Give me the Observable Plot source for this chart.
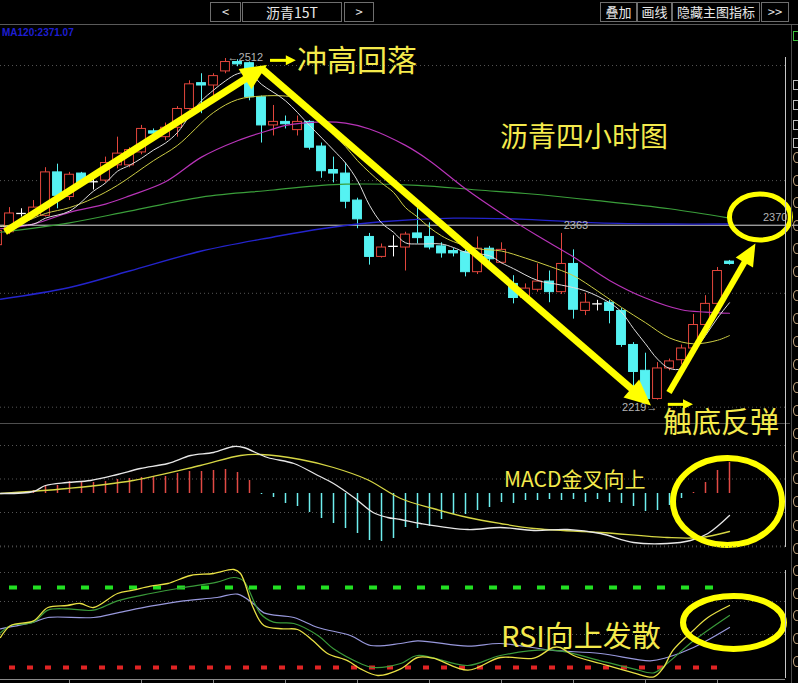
<!DOCTYPE html>
<html><head><meta charset="utf-8"><title>沥青四小时图</title>
<script src="https://cdn.jsdelivr.net/npm/d3@7"></script>
<script src="https://cdn.jsdelivr.net/npm/@observablehq/plot@0.6"></script>
<style>
html,body{margin:0;padding:0;background:#000;}
#wrap{position:relative;width:798px;height:683px;overflow:hidden;background:#000;}
.btn{position:absolute;top:2px;height:18px;border:1px solid #6e6e6e;color:#e8e8e8;font-family:"Noto Sans CJK SC",sans-serif;font-size:13px;line-height:18px;text-align:center;}
.hl{position:absolute;height:1px;}
.vl{position:absolute;width:1px;}
.plot{position:absolute;left:0;}
.ann{position:absolute;color:#f4ea4c;font-family:"Noto Sans CJK SC",sans-serif;white-space:nowrap;line-height:1;}
.ring{position:absolute;left:793px;width:8px;height:11px;border:1.5px solid #c8aa84;border-radius:50%;box-sizing:border-box;}
.box{position:absolute;left:793px;width:8px;height:10px;border:1px solid #bdbdbd;box-sizing:border-box;}
</style></head>
<body>
<div id="wrap">
  <div class="btn" style="left:210px;width:29px">&lt;</div>
  <div class="btn" style="left:242px;width:98px;font-size:14px">沥青15T</div>
  <div class="btn" style="left:344px;width:28px">&gt;</div>
  <div class="btn" style="left:600px;width:35px">叠加</div>
  <div class="btn" style="left:637px;width:33px">画线</div>
  <div class="btn" style="left:672px;width:86px">隐藏主图指标</div>
  <div class="btn" style="left:761px;width:26px">&gt;&gt;</div>
  <div class="hl" style="left:0;top:24px;width:798px;background:#5a5a5a"></div>
  <div style="position:absolute;left:2px;top:27px;font:bold 10px 'Liberation Sans',sans-serif;color:#1e1ed2">MA120:2371.07</div>
  <div id="main" class="plot" style="top:25px"></div>
  <div id="macd" class="plot" style="top:423px"></div>
  <div id="rsi" class="plot" style="top:548px"></div>
  <div class="hl" style="left:0;top:423px;width:790px;background:#4e4e4e"></div>
  <div class="vl" style="left:785px;top:57px;height:490px;background:#c8c8c8"></div>
  <div class="vl" style="left:785px;top:570px;height:108px;background:#c8c8c8"></div>
  <div class="vl" style="left:791px;top:25px;height:658px;background:#4a4a4a"></div>
  <div id="side"></div>
  <div class="ann" style="left:297px;top:43px;font-size:30px">冲高回落</div>
  <div class="ann" style="left:500px;top:121px;font-size:28px">沥青四小时图</div>
  <div class="ann" style="left:663px;top:406px;font-size:29px">触底反弹</div>
  <div class="ann" style="left:504px;top:468px;font-size:21px">MACD金叉向上</div>
  <div class="ann" style="left:501px;top:620px;font-size:29px">RSI向上发散</div>
</div>
<script>
// ---------- DATA ----------
// candle index 0..61 (4-hour bars)
const opens  = [2353,2364,2380,2378,2378,2415,2394,2414,2407,2408,2421,2421,2432,2450,2445,2453,2469,2491,2489,2501,2509,2508,2479,2455,2458,2451,2458,2437,2417,2414,2391,2360,2343,2352,2351,2363,2360,2352,2348,2347,2330,2350,2338,2320,2308,2315,2322,2313,2337,2297,2303,2304,2297,2268,2246,2222,2248,2255,2265,2285,2303,2339];
const highs  = [2367,2385,2384,2391,2419,2422,2415,2415,2409,2428,2445,2436,2455,2452,2457,2471,2493,2499,2499,2512,2511,2509,2480,2472,2463,2463,2459,2440,2428,2423,2393,2363,2354,2361,2364,2387,2372,2355,2350,2349,2360,2352,2355,2327,2320,2337,2331,2363,2349,2312,2306,2306,2299,2270,2261,2253,2256,2268,2294,2310,2334,2340];
const lows   = [2348,2362,2377,2376,2377,2384,2391,2405,2400,2406,2418,2419,2430,2445,2442,2445,2468,2465,2480,2499,2505,2476,2440,2446,2452,2446,2434,2410,2406,2384,2367,2336,2342,2343,2331,2354,2349,2342,2343,2326,2328,2337,2337,2303,2307,2313,2304,2311,2290,2293,2297,2286,2266,2231,2219,2221,2246,2251,2263,2283,2302,2336];
const closes = [2365,2380,2380,2385,2415,2395,2413,2406,2407,2423,2431,2434,2452,2448,2453,2469,2490,2489,2497,2509,2507,2479,2455,2458,2456,2458,2436,2416,2414,2390,2375,2343,2351,2352,2362,2359,2351,2346,2346,2330,2350,2341,2349,2308,2316,2322,2313,2337,2298,2304,2303,2297,2268,2245,2222,2248,2254,2265,2285,2303,2331,2337];

// moving averages: [candle index, price]
const ma5   = [[0.25,2369],[3,2371],[4,2376],[6,2382],[8,2399],[9,2406],[10,2416],[11,2421],[12,2427],[13,2434],[14,2440],[15,2449],[16,2463],[17,2476],[18,2485],[19,2493],[20,2499],[21,2500],[22,2490],[24,2476],[26,2455],[28,2434],[29,2423],[30,2408],[31,2387],[32,2372],[33,2364],[34,2355],[35,2354],[37,2354],[38,2351],[39,2347],[41,2344],[42,2338],[43,2333],[45,2323],[47,2319],[49,2314],[51,2304],[52,2296],[53,2282],[54,2269],[55,2256],[56,2248],[57,2248],[58,2262],[59,2276],[60,2291],[61,2304]];
const ma10  = [[0.25,2369],[2,2372],[4,2380],[6,2385],[8,2393],[10,2404],[13,2425],[15,2438],[18,2466],[20,2477],[22,2480],[24,2480],[25,2478],[26,2469],[27,2459],[28,2447],[29,2437],[30,2425],[31,2415],[32,2406],[33,2398],[34,2385],[35,2377],[36,2368],[37,2361],[38,2356],[40,2350],[42,2348],[44,2342],[46,2335],[48,2327],[50,2314],[52,2300],[54,2287],[56,2274],[58,2269],[60,2272],[61,2276]];
const ma20  = [[0.25,2367],[3,2371],[6,2381],[9,2388],[11,2395],[14,2407],[17,2428],[20,2442],[23,2452],[24,2455],[27,2458],[29,2457],[31,2452],[34,2438],[36,2425],[39,2401],[42,2380],[45,2361],[48,2343],[51,2323],[54,2308],[57,2298],[59,2296],[61,2295]];
const ma60  = [[0.25,2364],[6,2372],[11,2382],[17,2394],[23,2400],[27,2404],[29,2405],[35,2404],[40,2400],[44,2397],[50,2391],[56,2384],[61,2376]];
const ma120 = [[0.25,2307],[6,2317],[11,2331],[17,2348],[23,2360],[27,2367],[32,2373],[38,2376],[44,2375],[50,2372],[56,2371],[61,2371]];
const priceGrid = [2506, 2408, 2312, 2215];
const lastLine = [2370];

// MACD
const macdHist = [0,0,0,1.5,4,4,6,6,5.5,6,7,7.5,8,8.5,8.5,10,11,11,11.5,12,10.5,6.5,-0.5,-2,-5,-6.5,-9.5,-12.5,-15,-17.5,-20,-23.5,-24,-22.5,-17,-17.5,-16.5,-13,-10.5,-10.5,-8.5,-7,-4.5,-5,-3.5,-3.5,-3,-3.5,-3,-4.5,-3,-4.5,-5,-6.5,-9,-8.5,-6,-2.5,0.5,5.5,11.5,15.5];
const dif = [[0.25,0],[3,1],[4,4],[5.8,5.5],[7.75,6.5],[10,9.5],[11.9,12.5],[14.2,15],[16.1,19],[18,20.5],[19.7,23.5],[20.5,23],[22.5,18],[24.7,15],[26.7,9],[28,5],[29.7,-2],[31.3,-9.5],[32.5,-12],[33.6,-13],[35.25,-15],[39.2,-18],[41.9,-17],[44.7,-18.5],[47.5,-18],[50.25,-20],[53,-24.5],[55.8,-25],[57.75,-23.5],[59.2,-20],[61,-11]];
const dea = [[0.25,0],[5.8,2.5],[11.3,6.5],[16.9,14],[20.25,19],[21.9,19.5],[25.25,17],[28,13],[30.8,7],[33.6,-2.5],[36.3,-7.5],[39.2,-12],[41.9,-15],[44.7,-17.5],[50.25,-19.5],[55.8,-22],[58.6,-22],[61,-19]];
const macdGrid = [24, 7.25, -9.5, -26.25];

// RSI
const rsi6 = [[0.25,42.5],[1.1,51.5],[3,55],[4.2,65],[5.8,66.5],[6.9,68],[8,65],[10,75.5],[11.3,78],[12.75,81],[14.2,83],[16.1,89],[18,90.5],[19.7,93.5],[20.25,90.5],[21.3,65],[22.2,51.5],[23.8,49],[25,48.5],[26.3,40],[27.5,30.5],[29.2,25],[30.25,19],[31.7,14],[33.6,19],[35,27.5],[36.3,27],[39.2,18],[41.9,27.5],[44.7,27],[46.3,35],[46.9,35],[48,29],[50.25,23],[53,16],[54.7,13],[55.5,20],[56.3,33],[58,48],[59.2,57.5],[61,66.5]];
const rsi12 = [[0.25,46],[1.1,51.5],[3,54],[4.2,63],[5.8,64],[8,63],[10,70],[12.75,75.5],[15.5,80],[18.3,84],[19.7,87.5],[20.5,85],[21.9,60.5],[23,54],[24.7,53],[26.7,44],[28,34],[30.25,23],[31.3,20],[33.6,23],[35,29],[39.2,21.5],[41.9,29],[46.3,33],[50.25,25],[53,19],[54.7,16],[55.8,23],[58,40],[61,59]];
const rsi24 = [[0.25,49],[3,54],[4.2,57.5],[8,57.5],[10,61],[12.75,66],[15.5,70],[18.3,72.5],[20,75],[21.3,68],[22.2,61],[24.7,57.5],[26.7,50],[29.4,44],[31.1,36.5],[33.6,38],[35,40],[39.2,36],[41.9,38],[46.1,33],[50.25,30.5],[54.4,25],[55.8,27.5],[58,35],[61,50]];
const rsiGrid = [91.25, 69.5, 44.75];
const rsiHigh = [80], rsiLow = [20];
const axisTicks = [6,12,18,24,30,36,42,48,54,60];

// annotations (candle index, value)
const bigArrows   = [[0.67,2364,22.5,2506],[22.17,2502,54.5,2216]];
const upArrow     = [[56,2227,63.2,2354]];
const smallArrows = [[22.75,2510,24.9,2510],[55.9,2217,58,2217]];
const circleMain = [63.58, 2376.6], circleMacd = [60.875, -4.25], circleRsi = [61.375, 53.4];
const sideRows = [152,175,197,220,243,266,290,313,336,359,382,405,428,451,473,496,520,543,565,588,610,633,656];
const sideBoxes = [80,100,120,138];

// ---------- DRAW ----------
const X = {domain:[0.25, 66.75], range:[0, 798], axis:null};
const UP = "#e2463c", DN = "#55f2f2", EQ = "#ffffff", YEL = "#ffff00";
const candles = opens.map((o, i) => ({i, o, h: highs[i], l: lows[i], c: closes[i]}));
const ccol = d => d.c > d.o ? UP : d.c < d.o ? DN : EQ;
const pts = a => a.map(([i, v]) => ({i, v}));

function scalesOf(scales, ycfg) {
  const sx = typeof scales?.x === "function" ? scales.x : d3.scaleLinear(X.domain, X.range);
  const sy = typeof scales?.y === "function" ? scales.y : d3.scaleLinear(ycfg.domain, ycfg.range);
  return [sx, sy];
}
function ellipseMark(center, rx, ry, sw, ycfg) {
  return (index, scales) => {
    const [sx, sy] = scalesOf(scales, ycfg);
    const g = d3.create("svg:g");
    g.append("ellipse").attr("cx", sx(center[0])).attr("cy", sy(center[1]))
      .attr("rx", rx).attr("ry", ry).attr("fill", "none").attr("stroke", YEL).attr("stroke-width", sw);
    return g.node();
  };
}
function arrowMark(list, w, hl, hw, ycfg) {
  return (index, scales) => {
    const [sx, sy] = scalesOf(scales, ycfg);
    const g = d3.create("svg:g");
    for (const [a, b, c, d] of list) {
      const x1 = sx(a), y1 = sy(b), x2 = sx(c), y2 = sy(d);
      const L = Math.hypot(x2 - x1, y2 - y1), ux = (x2 - x1) / L, uy = (y2 - y1) / L;
      const bx = x2 - ux * hl, by = y2 - uy * hl;
      g.append("line").attr("x1", x1).attr("y1", y1).attr("x2", bx + ux * 2).attr("y2", by + uy * 2)
        .attr("stroke", YEL).attr("stroke-width", w);
      g.append("polygon").attr("fill", YEL)
        .attr("points", `${x2},${y2} ${bx - uy * hw},${by + ux * hw} ${bx + uy * hw},${by - ux * hw}`);
    }
    return g.node();
  };
}
const baseStyle = {background: "transparent", overflow: "visible"};
const lab = {fontFamily: "Liberation Sans", fontSize: 11, fill: "#b4b4b4"};

// main price panel
const YM = {domain:[2219, 2512], range:[377, 33], axis:null};
const mainPlot = Plot.plot({
  width: 798, height: 398, margin: 0, style: baseStyle,
  x: X, y: YM,
  marks: [
    Plot.ruleY(priceGrid, {x1: 0.25, x2: 65.67, stroke: "#555", strokeDasharray: "1,3"}),
    Plot.ruleY(lastLine, {stroke: "#d8d8d8", strokeWidth: 1}),
    Plot.ruleX(candles, {x: "i", y1: "l", y2: "h", stroke: ccol, strokeWidth: 1}),
    Plot.rect(candles.filter(d => d.c !== d.o), {x1: d => d.i - 0.37, x2: d => d.i + 0.37, y1: "o", y2: "c",
      fill: d => d.c > d.o ? "#000" : DN, stroke: ccol, strokeWidth: 1}),
    Plot.ruleY(candles.filter(d => d.c === d.o), {y: "o", x1: d => d.i - 0.4, x2: d => d.i + 0.4, stroke: EQ, strokeWidth: 1.3}),
    Plot.line(pts(ma120), {x: "i", y: "v", stroke: "#2424cc", strokeWidth: 1.4, curve: "catmull-rom"}),
    Plot.line(pts(ma60), {x: "i", y: "v", stroke: "#3a9e3a", strokeWidth: 1.2, curve: "catmull-rom"}),
    Plot.line(pts(ma20), {x: "i", y: "v", stroke: "#b834b8", strokeWidth: 1.2, curve: "catmull-rom"}),
    Plot.line(pts(ma10), {x: "i", y: "v", stroke: "#cccc44", strokeWidth: 1, curve: "catmull-rom"}),
    Plot.line(pts(ma5), {x: "i", y: "v", stroke: "#dedede", strokeWidth: 1, curve: "catmull-rom"}),
    Plot.text([{i: 19.17, v: 2512.5}], {x: "i", y: "v", text: () => "←2512", textAnchor: "start", ...lab}),
    Plot.text([{i: 48.2, v: 2363}], {x: "i", y: "v", text: () => "2363", dy: -8, ...lab}),
    Plot.text([{i: 55, v: 2219}], {x: "i", y: "v", text: () => "2219→", textAnchor: "end", dy: 5, ...lab}),
    Plot.text([{i: 65.83, v: 2370}], {x: "i", y: "v", text: () => "2370", textAnchor: "end", dy: -8, ...lab}),
    arrowMark(bigArrows, 7, 26, 12, YM),
    arrowMark(upArrow, 6, 22, 10, YM),
    arrowMark(smallArrows, 3, 10, 5, YM),
    ellipseMark(circleMain, 30.5, 23, 5, YM)
  ]
});
document.getElementById("main").append(mainPlot);

// MACD panel
const YD = {domain:[-27, 35], range:[124, 0], axis:null};
const hist = macdHist.map((v, i) => ({i, v})).filter(d => d.v !== 0);
const macdPlot = Plot.plot({
  width: 798, height: 125, margin: 0, style: baseStyle,
  x: X, y: YD,
  marks: [
    Plot.ruleY(macdGrid, {x1: 0.25, x2: 65.67, stroke: "#555", strokeDasharray: "1,3"}),
    Plot.ruleX(hist, {x: "i", y1: 0, y2: "v", stroke: d => d.v >= 0 ? "#e24a44" : "#6eeeee", strokeWidth: 1.5}),
    Plot.line(pts(dea), {x: "i", y: "v", stroke: "#d6d644", strokeWidth: 1.3, curve: "catmull-rom"}),
    Plot.line(pts(dif), {x: "i", y: "v", stroke: "#e6e6e6", strokeWidth: 1.3, curve: "catmull-rom"}),
    ellipseMark(circleMacd, 54.5, 43.5, 6, YD)
  ]
});
document.getElementById("macd").append(macdPlot);

// RSI panel
const YR = {domain:[20, 80], range:[119, 39], axis:null};
const rsiPlot = Plot.plot({
  width: 798, height: 135, margin: 0, style: baseStyle,
  x: X, y: YR,
  marks: [
    Plot.ruleY([110.5], {x1: 0.25, x2: 65.67, stroke: "#555", strokeDasharray: "1,3"}),
    Plot.ruleY(rsiGrid, {x1: 0.25, x2: 65.67, stroke: "#555", strokeDasharray: "1,3"}),
    Plot.ruleY(rsiHigh, {x1: 1, x2: 60, stroke: "#22e022", strokeWidth: 4, strokeDasharray: "8,16"}),
    Plot.ruleY(rsiLow, {x1: 1, x2: 60, stroke: "#e02424", strokeWidth: 4, strokeDasharray: "6,12"}),
    Plot.line(pts(rsi24), {x: "i", y: "v", stroke: "#9898dc", strokeWidth: 1.2, curve: "catmull-rom"}),
    Plot.line(pts(rsi12), {x: "i", y: "v", stroke: "#3a9a3a", strokeWidth: 1.2, curve: "catmull-rom"}),
    Plot.line(pts(rsi6), {x: "i", y: "v", stroke: "#e8e044", strokeWidth: 1.3, curve: "catmull-rom"}),
    Plot.ruleY([11], {x1: 0.25, x2: 65.67, stroke: "#8a8a8a"}),
    Plot.ruleX(axisTicks, {y1: 8, y2: 11, stroke: "#8a8a8a"}),
    ellipseMark(circleRsi, 50.5, 26.5, 6, YR)
  ]
});
document.getElementById("rsi").append(rsiPlot);

// side list column (cut off at the right edge): drawn as shapes only
const side = document.getElementById("side");
const g0 = document.createElement("div"); g0.className = "box";
g0.style.top = "31px"; g0.style.borderColor = "#3cc03c"; side.append(g0);
for (const y of sideBoxes) {
  const s = document.createElement("div"); s.className = "box"; s.style.top = y + "px"; side.append(s);
}
for (const y of sideRows) {
  const s = document.createElement("div"); s.className = "ring"; s.style.top = y + "px"; side.append(s);
}
</script>
</body></html>
